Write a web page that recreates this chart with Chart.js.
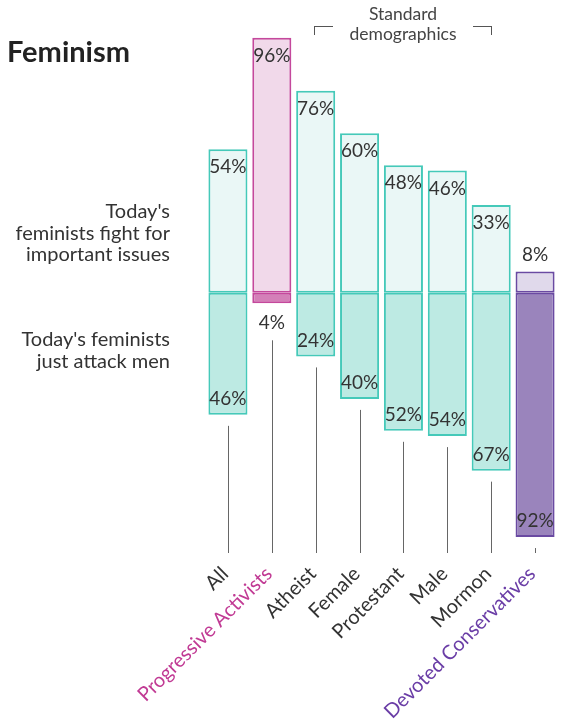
<!DOCTYPE html>
<html>
<head>
<meta charset="utf-8">
<script src="https://cdn.jsdelivr.net/npm/chart.js@4.4.1/dist/chart.umd.min.js"></script>
<style>
  body { margin: 0; background: #fff; font-family: Lato, sans-serif; }
  #wrap { position: relative; width: 563px; height: 723px; overflow: hidden; }
  #grafico { position: absolute; left: 0; top: 0; }
  .titulo { position: absolute; left: 7px; top: 33px; font-size: 29px; font-weight: bold; color: #222; }
  .nota { position: absolute; right: 393px; text-align: right; font-size: 20px; line-height: 21.5px; color: #333; white-space: nowrap; }
  .grupo { position: absolute; left: 323px; width: 160px; top: 4px; text-align: center; font-size: 17.5px; line-height: 20px; color: #444; }
  .corchete { position: absolute; top: 26px; width: 18px; height: 8px; border-top: 1.5px solid #555; }
  .corchete.izq { left: 314px; border-left: 1.5px solid #555; }
  .corchete.der { left: 473px; border-right: 1.5px solid #555; }
</style>
</head>
<body>
<div id="wrap">
  <canvas id="grafico" width="563" height="723"></canvas>
  <div class="titulo">Feminism</div>
  <div class="nota" style="top:200px">Today's<br>feminists fight for<br>important issues</div>
  <div class="nota" style="top:328px">Today's feminists<br>just attack men</div>
  <div class="grupo">Standard<br>demographics</div>
  <div class="corchete izq"></div>
  <div class="corchete der"></div>
</div>
<script>
const categorias = ['All', 'Progressive Activists', 'Atheist', 'Female', 'Protestant', 'Male', 'Mormon', 'Devoted Conservatives'];
const luchan = [54, 96, 76, 60, 48, 46, 33, 8];   // fight for important issues
const atacan = [46, 4, 24, 40, 52, 54, 67, 92];   // just attack men
const grupos = ['std', 'pa', 'std', 'std', 'std', 'std', 'std', 'dc'];

const colores = {
    std: { borde: '#45c9b9', arriba: '#eaf7f6', abajo: '#bdeae3', texto: '#333' },
    pa:  { borde: '#c4489c', arriba: '#f1d9ea', abajo: '#d47fb8', texto: '#c13a94' },
    dc:  { borde: '#6a4aa2', arriba: '#e0d9eb', abajo: '#9a84bc', texto: '#6a3da6' }
};

const graficoCanvas = document.getElementById('grafico');

// etiquetas de valor y lineas guia debajo de cada barra
const etiquetas = {
    id: 'etiquetas',
    afterDatasetsDraw(chart) {
        const { ctx, chartArea, scales: { x, y } } = chart;
        ctx.save();
        ctx.font = '19px Lato';
        ctx.fillStyle = '#333';
        ctx.textAlign = 'center';
        ctx.textBaseline = 'middle';
        categorias.forEach((c, i) => {
            const cx = x.getPixelForValue(i);
            const yArriba = y.getPixelForValue(luchan[i]);
            const yAbajo = y.getPixelForValue(-atacan[i]);

            ctx.fillText(luchan[i] + '%', cx, luchan[i] < 10 ? yArriba - 17 : yArriba + 18);
            ctx.fillText(atacan[i] + '%', cx, atacan[i] < 10 ? yAbajo + 20 : yAbajo - 16);

            const desde = atacan[i] < 10 ? yAbajo + 37 : yAbajo + 11;
            const lx = Math.round(cx) + 0.5;
            ctx.strokeStyle = '#666';
            ctx.lineWidth = 1;
            ctx.beginPath();
            ctx.moveTo(lx, desde);
            ctx.lineTo(lx, chartArea.bottom);
            ctx.stroke();
        });
        ctx.restore();
    }
};

const chart = new Chart(graficoCanvas, {
    type: 'bar',
    data: {
        labels: categorias,
        datasets: [{
            label: "Today's feminists fight for important issues",
            data: luchan,
            backgroundColor: grupos.map(g => colores[g].arriba),
            borderColor: grupos.map(g => colores[g].borde),
            borderWidth: 2,
            borderSkipped: false
        }, {
            label: "Today's feminists just attack men",
            data: atacan.map(v => -v),
            backgroundColor: grupos.map(g => colores[g].abajo),
            borderColor: grupos.map(g => colores[g].borde),
            borderWidth: 2,
            borderSkipped: false
        }]
    },
    options: {
        responsive: false,
        animation: false,
        layout: { padding: { left: 206, right: 6, top: 27, bottom: 0 } },
        datasets: { bar: { categoryPercentage: 1, barPercentage: 0.89 } },
        plugins: { legend: { display: false }, tooltip: { enabled: false } },
        scales: {
            x: {
                stacked: true,
                grid: { display: false },
                border: { display: false },
                ticks: {
                    minRotation: 45,
                    maxRotation: 45,
                    padding: 1,
                    labelOffset: -3,
                    font: { family: 'Lato', size: 20 },
                    color: (c) => colores[grupos[c.index]].texto
                },
                afterFit: (s) => { s.height = 170; }
            },
            y: {
                stacked: true,
                display: false,
                min: -98,
                max: 100
            }
        }
    },
    plugins: [etiquetas]
});
</script>
</body>
</html>
